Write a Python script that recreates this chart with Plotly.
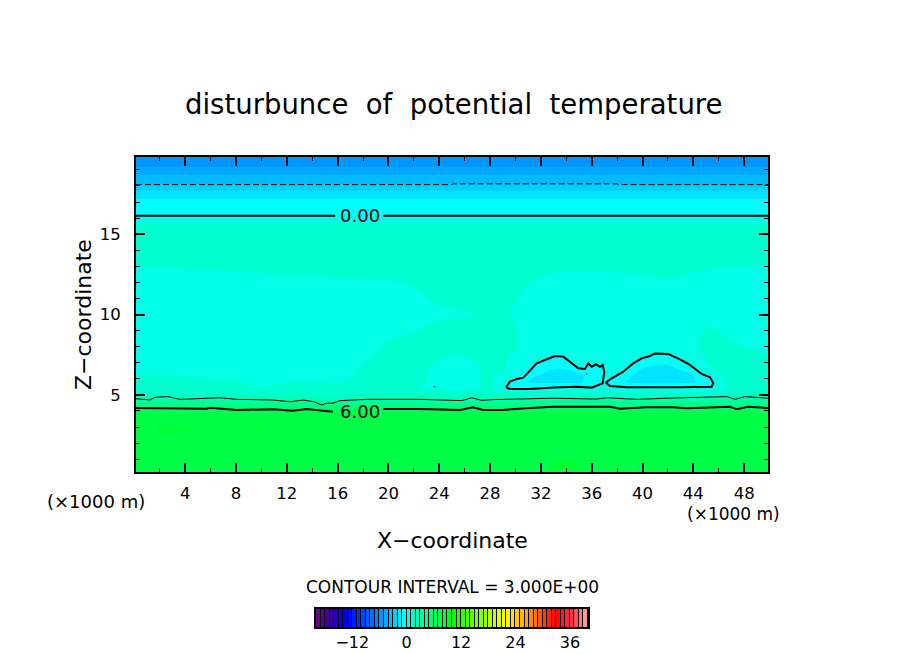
import plotly.graph_objects as go

# grid of the field (x in km, z in km)
x_grid = [0.125, 2, 4, 6, 8, 10, 12, 14, 16, 18, 20, 22, 24, 26, 28, 29, 30, 31, 32, 33, 34, 35, 36, 37, 38, 39, 40, 41, 42, 43, 44, 45, 46, 47, 48, 49.875]
z_grid = [0.2, 1.5, 3, 3.9, 4.15, 4.7, 5.0, 5.45, 5.8, 6.2, 6.6, 7.0, 7.4, 7.8, 8.5, 10, 12, 14, 15.6, 16.15, 17.2, 17.7, 18.1, 18.7, 19.2, 19.8]

# disturbance of potential temperature, one row per z level
theta = [
    [7.6, 7.7, 7.6, 7.6, 7.7, 7.7, 7.8, 7.8, 7.7, 7.6, 7.6, 7.6, 7.7, 7.8, 7.9, 8.0, 7.9, 7.8, 7.9, 8.1, 8.2, 8.1, 7.8, 7.7, 7.6, 7.9, 8.2, 8.0, 7.7, 7.6, 7.6, 7.6, 7.6, 7.7, 7.7, 7.6],
    [7.5, 7.7, 7.6, 7.4, 7.6, 7.6, 7.8, 7.7, 7.6, 7.5, 7.5, 7.5, 7.3, 7.2, 7.3, 7.4, 7.5, 7.6, 7.7, 7.9, 7.9, 7.7, 7.5, 7.3, 7.2, 7.5, 7.7, 7.6, 7.5, 7.5, 7.5, 7.5, 7.4, 7.4, 7.5, 7.5],
    [7.4, 8.1, 8.1, 7.6, 7.9, 8.1, 7.6, 7.5, 7.5, 7.5, 7.4, 7.3, 7.1, 7.0, 7.1, 7.3, 7.4, 7.5, 7.5, 7.6, 7.6, 7.5, 7.4, 7.2, 7.1, 7.3, 7.5, 7.5, 7.4, 7.4, 7.5, 7.5, 7.3, 7.2, 7.3, 7.4],
    [7.1, 7.1, 7.1, 7.1, 7.1, 7.1, 7.1, 7.1, 7.1, 7.1, 7.1, 7.1, 7.1, 7.1, 7.1, 7.1, 7.1, 7.1, 7.1, 7.1, 7.1, 7.1, 7.1, 7.1, 7.1, 7.1, 7.1, 7.1, 7.1, 7.1, 7.1, 7.1, 7.1, 7.1, 7.1, 7.1],
    [6.0, 6.0, 6.0, 6.0, 6.0, 6.0, 6.0, 6.0, 5.9, 6.0, 6.0, 6.0, 6.0, 6.0, 6.0, 6.1, 6.1, 6.1, 6.2, 6.2, 6.2, 6.2, 6.2, 6.2, 6.1, 6.1, 6.1, 6.1, 6.1, 6.1, 6.1, 6.2, 6.2, 6.1, 6.2, 6.1],
    [3.1, 3.2, 3.2, 3.1, 3.0, 3.0, 2.9, 2.8, 2.7, 3.0, 3.0, 3.0, 3.0, 3.0, 3.0, 3.1, 3.1, 3.1, 3.1, 3.2, 3.2, 3.2, 3.1, 3.1, 3.1, 3.1, 3.1, 3.2, 3.2, 3.2, 3.2, 3.2, 3.3, 3.1, 3.2, 3.2],
    [1.6, 1.6, 1.6, 1.6, 1.6, 1.6, 1.6, 1.6, 1.6, 1.6, 1.6, 1.6, 1.5, 1.5, 1.6, 1.6, 1.6, 1.6, 1.6, 1.6, 1.6, 1.6, 1.6, 1.6, 1.6, 1.6, 1.6, 1.6, 1.6, 1.6, 1.6, 1.6, 1.6, 1.6, 1.6, 1.6],
    [1.3, 1.3, 1.3, 1.3, 1.2, 0.95, 1.2, 1.3, 1.1, 1.1, 1.1, 1.05, 0.7, 0.7, 1.2, 0.3, 0.0, 0.0, 0.0, 0.0, 0.0, 0.0, 0.0, 0.2, 0.0, 0.0, 0.0, 0.0, 0.0, 0.0, 0.0, 0.0, 0.7, 1.3, 1.3, 1.3],
    [1.1, 1.1, 1.1, 1.1, 1.05, 0.85, 1.0, 1.05, 0.95, 1.25, 1.3, 1.3, 0.65, 0.65, 1.2, 0.4, -0.5, -1.0, -1.2, -1.2, -1.2, -1.2, -0.4, 0.2, -0.7, -1.1, -1.3, -1.3, -1.3, -1.3, -1.1, -0.4, 0.6, 1.2, 1.3, 1.3],
    [1.05, 1.02, 0.98, 0.8, 0.8, 0.8, 0.8, 0.8, 0.8, 1.1, 1.3, 1.3, 0.7, 0.7, 1.2, 0.8, 0.0, -0.6, -1.1, -1.5, -1.5, -1.2, -0.6, 0.2, -0.15, -0.9, -1.4, -1.6, -1.6, -1.5, -1.0, -0.1, 0.9, 1.3, 1.3, 1.3],
    [0.7, 0.7, 0.7, 0.7, 0.7, 0.7, 0.7, 0.7, 0.7, 1.05, 1.25, 1.3, 0.75, 0.75, 1.15, 1.1, 0.5, 0.1, -0.6, -1.0, -1.0, -0.05, -0.3, 0.3, 0.3, -0.4, -1.1, -1.4, -1.4, -0.9, -0.1, 0.7, 1.15, 1.3, 1.3, 1.2],
    [0.7, 0.7, 0.7, 0.7, 0.7, 0.7, 0.7, 0.7, 0.7, 1.0, 1.2, 1.3, 0.9, 0.75, 1.2, 1.1, 0.8, 0.5, -0.1, -0.6, -0.25, 0.4, 0.4, 0.6, 0.7, 0.3, -0.4, -0.7, -0.7, -0.3, 0.3, 1.0, 1.2, 1.2, 1.2, 1.1],
    [0.7, 0.7, 0.7, 0.7, 0.7, 0.7, 0.7, 0.7, 0.7, 0.9, 1.15, 1.3, 1.05, 1.0, 1.2, 1.15, 0.85, 0.5, 0.3, 0.0, 0.3, 0.6, 0.6, 0.7, 0.7, 0.6, 0.15, -0.15, -0.1, 0.3, 0.7, 1.05, 1.2, 1.2, 1.15, 1.0],
    [0.7, 0.7, 0.7, 0.7, 0.7, 0.7, 0.7, 0.7, 0.7, 0.85, 1.1, 1.25, 1.2, 1.15, 1.2, 1.15, 1.05, 0.7, 0.6, 0.6, 0.6, 0.6, 0.6, 0.6, 0.6, 0.6, 0.6, 0.6, 0.6, 0.6, 0.95, 1.1, 1.2, 1.15, 1.05, 0.95],
    [0.7, 0.7, 0.7, 0.7, 0.7, 0.7, 0.7, 0.7, 0.7, 0.7, 0.95, 1.1, 1.25, 1.25, 1.25, 1.2, 1.05, 0.7, 0.6, 0.6, 0.6, 0.6, 0.6, 0.6, 0.6, 0.6, 0.6, 0.6, 0.6, 0.6, 0.9, 1.1, 1.1, 0.95, 0.85, 0.8],
    [0.6, 0.6, 0.6, 0.6, 0.6, 0.6, 0.6, 0.6, 0.6, 0.6, 0.6, 0.7, 0.9, 0.95, 1.1, 1.05, 0.95, 0.8, 0.6, 0.6, 0.6, 0.6, 0.6, 0.6, 0.6, 0.6, 0.6, 0.6, 0.6, 0.6, 0.75, 0.9, 0.75, 0.7, 0.65, 0.6],
    [0.63, 0.66, 0.7, 0.75, 0.8, 0.84, 0.88, 0.9, 0.92, 0.95, 0.97, 1.05, 1.25, 1.35, 1.3, 1.2, 1.1, 1.0, 0.93, 0.83, 0.8, 0.78, 0.78, 0.79, 0.82, 0.85, 0.88, 0.92, 0.93, 0.9, 0.82, 0.72, 0.67, 0.63, 0.58, 0.5],
    [1.4, 1.4, 1.4, 1.4, 1.4, 1.4, 1.4, 1.4, 1.4, 1.4, 1.4, 1.4, 1.4, 1.4, 1.4, 1.4, 1.4, 1.4, 1.4, 1.4, 1.4, 1.4, 1.4, 1.4, 1.4, 1.4, 1.4, 1.4, 1.4, 1.4, 1.4, 1.4, 1.4, 1.4, 1.4, 1.4],
    [1.02, 1.02, 1.02, 1.02, 1.02, 1.02, 1.02, 1.02, 1.02, 1.02, 1.02, 1.02, 1.02, 1.02, 1.02, 1.02, 1.02, 1.02, 1.02, 1.02, 1.02, 1.02, 1.02, 1.02, 1.02, 1.02, 1.02, 1.02, 1.02, 1.02, 1.02, 1.02, 1.02, 1.02, 1.02, 1.02],
    [0.0, 0.0, 0.0, 0.0, 0.0, 0.0, 0.0, 0.0, 0.0, 0.0, 0.0, 0.0, 0.0, 0.0, 0.0, 0.0, 0.0, 0.0, 0.0, 0.0, 0.0, 0.0, 0.0, 0.0, 0.0, 0.0, 0.0, 0.0, 0.0, 0.0, 0.0, 0.0, 0.0, 0.0, 0.0, 0.0],
    [-1.0, -1.0, -1.0, -1.0, -1.0, -1.0, -1.0, -1.0, -1.0, -1.0, -1.0, -1.0, -1.0, -1.0, -1.0, -1.0, -1.0, -1.0, -1.0, -1.0, -1.0, -1.0, -1.0, -1.0, -1.0, -1.0, -1.0, -1.0, -1.0, -1.0, -1.0, -1.0, -1.0, -1.0, -1.0, -1.0],
    [-2.0, -2.0, -2.0, -2.0, -2.0, -2.0, -2.0, -2.0, -2.0, -2.0, -2.0, -2.0, -2.0, -2.0, -2.0, -2.0, -2.0, -2.0, -2.0, -2.0, -2.0, -2.0, -2.0, -2.0, -2.0, -2.0, -2.0, -2.0, -2.0, -2.0, -2.0, -2.0, -2.0, -2.0, -2.0, -2.0],
    [-3.0, -3.0, -3.0, -3.0, -3.0, -3.0, -3.0, -3.0, -3.0, -3.0, -3.0, -3.0, -3.0, -3.0, -3.0, -3.0, -3.0, -3.0, -3.0, -3.0, -3.0, -3.0, -3.0, -3.0, -3.0, -3.0, -3.0, -3.0, -3.0, -3.0, -3.0, -3.0, -3.0, -3.0, -3.0, -3.0],
    [-4.0, -4.0, -4.0, -4.0, -4.0, -4.0, -4.0, -4.0, -4.0, -4.0, -4.0, -4.0, -4.0, -4.0, -4.0, -4.0, -4.0, -4.0, -4.0, -4.0, -4.0, -4.0, -4.0, -4.0, -4.0, -4.0, -4.0, -4.0, -4.0, -4.0, -4.0, -4.0, -4.0, -4.0, -4.0, -4.0],
    [-5.0, -5.0, -5.0, -5.0, -5.0, -5.0, -5.0, -5.0, -5.0, -5.0, -5.0, -5.0, -5.0, -5.0, -5.0, -5.0, -5.0, -5.0, -5.0, -5.0, -5.0, -5.0, -5.0, -5.0, -5.0, -5.0, -5.0, -5.0, -5.0, -5.0, -5.0, -5.0, -5.0, -5.0, -5.0, -5.0],
    [-5.8, -5.8, -5.8, -5.8, -5.8, -5.8, -5.8, -5.8, -5.8, -5.8, -5.8, -5.8, -5.8, -5.8, -5.8, -5.8, -5.8, -5.8, -5.8, -5.8, -5.8, -5.8, -5.8, -5.8, -5.8, -5.8, -5.8, -5.8, -5.8, -5.8, -5.8, -5.8, -5.8, -5.8, -5.8, -5.8],
]

# contour lines
minus3_x = [0.125, 25, 25.1, 38, 38.1, 49.875]
minus3_z = [18.08, 18.08, 18.13, 18.13, 18.08, 18.08]
zero_x = [0.125, 15.8, None, 19.57, 49.875]
zero_z = [16.15, 16.15, None, 16.15, 16.15]
plus3_x = [0.125, 1.23, 1.62, 2.64, 3.59, 6.74, 8.08, 10.91, 12.25, 13.27, 14.14, 14.74, 15.14, 15.63, 16.18, 18.28, 22.48, 25.37, 25.78, 26.55, 27.34, 28.15, 30.35, 32.95, 36.41, 37.2, 39.56, 42.16, 46.65, 47.28, 48.07, 49.875]
plus3_z = [4.76, 4.68, 4.85, 4.89, 4.72, 4.82, 4.72, 4.68, 4.57, 4.68, 4.57, 4.37, 4.48, 4.48, 4.64, 4.72, 4.72, 4.68, 4.64, 4.82, 4.66, 4.70, 4.74, 4.79, 4.74, 4.82, 4.72, 4.80, 4.89, 4.72, 4.89, 4.79]
plus6_x = [0.125, 5.69, 5.95, 8.05, 10.91, 12.48, 13.56, 15.63, None, 19.57, 22.48, 25.63, 26.65, 27.44, 29, 31.14, 32.95, 37.44, 38.2, 40.35, 42.4, 43.5, 46.88, 47.43, 48.3, 49.875]
plus6_z = [4.18, 4.14, 4.2, 4.06, 4.1, 4.01, 4.12, 3.95, None, 4.12, 4.12, 4.06, 4.23, 4.06, 4.06, 4.18, 4.26, 4.26, 4.14, 4.23, 4.23, 4.16, 4.26, 4.1, 4.26, 4.18]
cloud1_x = [29.25, 29.56, 30.09, 30.61, 31.14, 31.66, 32.32, 33.11, 33.76, 34.29, 34.94, 35.47, 35.73, 35.99, 36.33, 36.65, 36.86, 36.99, 36.86, 35.99, 34.81, 32.98, 31.14, 29.56, 29.25]
cloud1_z = [5.47, 5.82, 5.99, 6.07, 6.51, 6.96, 7.17, 7.42, 7.38, 7.07, 6.65, 6.61, 6.96, 6.75, 6.90, 6.75, 6.86, 6.44, 5.72, 5.45, 5.51, 5.45, 5.37, 5.37, 5.47]
cloud2_x = [37.10, 37.57, 38.49, 39.27, 39.93, 40.59, 40.98, 42.03, 42.95, 43.73, 44.65, 45.31, 45.57, 45.44, 42.95, 38.75, 37.44, 37.10]
cloud2_z = [5.76, 6.03, 6.44, 6.96, 7.27, 7.42, 7.58, 7.54, 7.21, 6.86, 6.30, 6.09, 5.72, 5.51, 5.47, 5.47, 5.55, 5.76]
speck_x = [23.55, 23.7, None, 35.55, 35.65]
speck_z = [5.5, 5.5, None, 6.3, 6.3]

# colour bar
bar_values = list(range(-20, 40))
bar_centres = [v + 0.5 for v in bar_values]
bar_ticks = [-12, 0, 12, 24, 36]
y_ticks = [5, 10, 15]
x_ticks = [4, 8, 12, 16, 20, 24, 28, 32, 36, 40, 44, 48]

palette = [
    [0.0, "rgb(120,0,140)"],
    [3 / 60, "rgb(60,0,150)"],
    [7 / 60, "rgb(0,0,255)"],
    [18.5 / 60, "rgb(0,228,255)"],
    [19.4 / 60, "rgb(0,255,255)"],
    [27.5 / 60, "rgb(0,255,70)"],
    [28.5 / 60, "rgb(0,255,52)"],
    [30 / 60, "rgb(0,255,0)"],
    [42 / 60, "rgb(255,255,0)"],
    [47 / 60, "rgb(255,150,0)"],
    [53 / 60, "rgb(255,0,0)"],
    [57 / 60, "rgb(255,60,80)"],
    [1.0, "rgb(255,170,170)"],
]

FONT = "DejaVu Sans"

fig = go.Figure()

fig.add_trace(go.Contour(
    x=x_grid, y=z_grid, z=theta,
    zmin=-20, zmax=40, colorscale=palette, showscale=False,
    autocontour=False, contours=dict(start=-20, end=40, size=1, coloring="fill"),
    line=dict(width=0), hoverinfo="skip",
))

# contour lines
for xs, zs, lw, dash in [
    (minus3_x, minus3_z, 1, "6px,3px"),
    (zero_x, zero_z, 2, "solid"),
    (plus3_x, plus3_z, 1, "solid"),
    (plus6_x, plus6_z, 2, "solid"),
    (cloud1_x, cloud1_z, 2, "solid"),
    (cloud2_x, cloud2_z, 2, "solid"),
    (speck_x, speck_z, 1, "solid"),
]:
    fig.add_trace(go.Scatter(x=xs, y=zs, mode="lines", line=dict(color="black", width=lw, dash=dash),
                             showlegend=False, hoverinfo="skip"))

# colour bar as a heatmap on its own axes
fig.add_trace(go.Heatmap(
    x=bar_centres, y=[0], z=[bar_centres], xaxis="x2", yaxis="y2",
    zmin=-20, zmax=40, colorscale=palette, showscale=False, xgap=1, hoverinfo="skip",
))

fig.update_layout(
    width=904, height=654, margin=dict(l=0, r=0, t=0, b=0),
    paper_bgcolor="white", plot_bgcolor="black", showlegend=False,
    font=dict(family=FONT, size=15, color="black"),
    xaxis=dict(
        domain=[136 / 904, 768 / 904], range=[0.125, 49.875],
        tickvals=x_ticks, ticks="inside", ticklen=9, tickwidth=2, tickcolor="black",
        minor=dict(dtick=2, tick0=0, ticks="inside", ticklen=4, tickwidth=1, tickcolor="black"),
        showgrid=False, zeroline=False, showline=True, linecolor="black", linewidth=2, mirror="allticks",
        tickfont=dict(size=16.5), ticklabelstandoff=5,
    ),
    yaxis=dict(
        domain=[1 - 472 / 654, 1 - 157 / 654], range=[0.2, 19.8],
        tickvals=y_ticks, ticks="inside", ticklen=9, tickwidth=2, tickcolor="black",
        minor=dict(dtick=1, tick0=0, ticks="inside", ticklen=4, tickwidth=1, tickcolor="black"),
        showgrid=False, zeroline=False, showline=True, linecolor="black", linewidth=2, mirror="allticks",
        tickfont=dict(size=16.5), ticklabelstandoff=10,
    ),
    xaxis2=dict(
        domain=[316 / 904, 588 / 904], range=[-20, 40], anchor="y2",
        tickvals=bar_ticks, ticktext=["\u221212", "0", "12", "24", "36"], ticks="",
        showgrid=False, zeroline=False, showline=True, linecolor="black", linewidth=2, mirror=True,
        tickfont=dict(size=16),
    ),
    yaxis2=dict(
        domain=[1 - 627 / 654, 1 - 609 / 654], range=[-0.5, 0.5], anchor="x2",
        showticklabels=False, ticks="", showgrid=False, zeroline=False,
        showline=True, linecolor="black", linewidth=2, mirror=True,
    ),
)

NB = "\u00a0"
for text, px, py, size, angle in [
    (f"disturbunce{NB}{NB}of{NB}{NB}potential{NB}{NB}temperature", 453, 104, 27.5, 0),
    ("X\u2212coordinate", 452, 540, 22, 0),
    ("Z\u2212coordinate", 83, 315, 22, -90),
    (f"(\u00d71000{NB}m)", 96, 501, 18, 0),
    (f"(\u00d71000{NB}m)", 733, 514, 17, 0),
    (f"CONTOUR{NB}INTERVAL{NB}={NB}3.000E+00", 452, 587, 17, 0),
]:
    fig.add_annotation(text=text, x=px / 904, y=1 - py / 654, xref="paper", yref="paper",
                       xanchor="center", yanchor="middle", showarrow=False, textangle=angle,
                       font=dict(size=size, family=FONT))

# labels on the contour lines
for text, lx, lz in [("0.00", 17.72, 16.15), ("6.00", 17.72, 3.98)]:
    fig.add_annotation(text=text, x=lx, y=lz, xref="x", yref="y", showarrow=False,
                       font=dict(size=18, family=FONT))

# the page's default body margin would push the figure off its pixel positions
fig.write_html("out.html", post_script="document.body.style.margin = '0';",
               config={"displayModeBar": False})
